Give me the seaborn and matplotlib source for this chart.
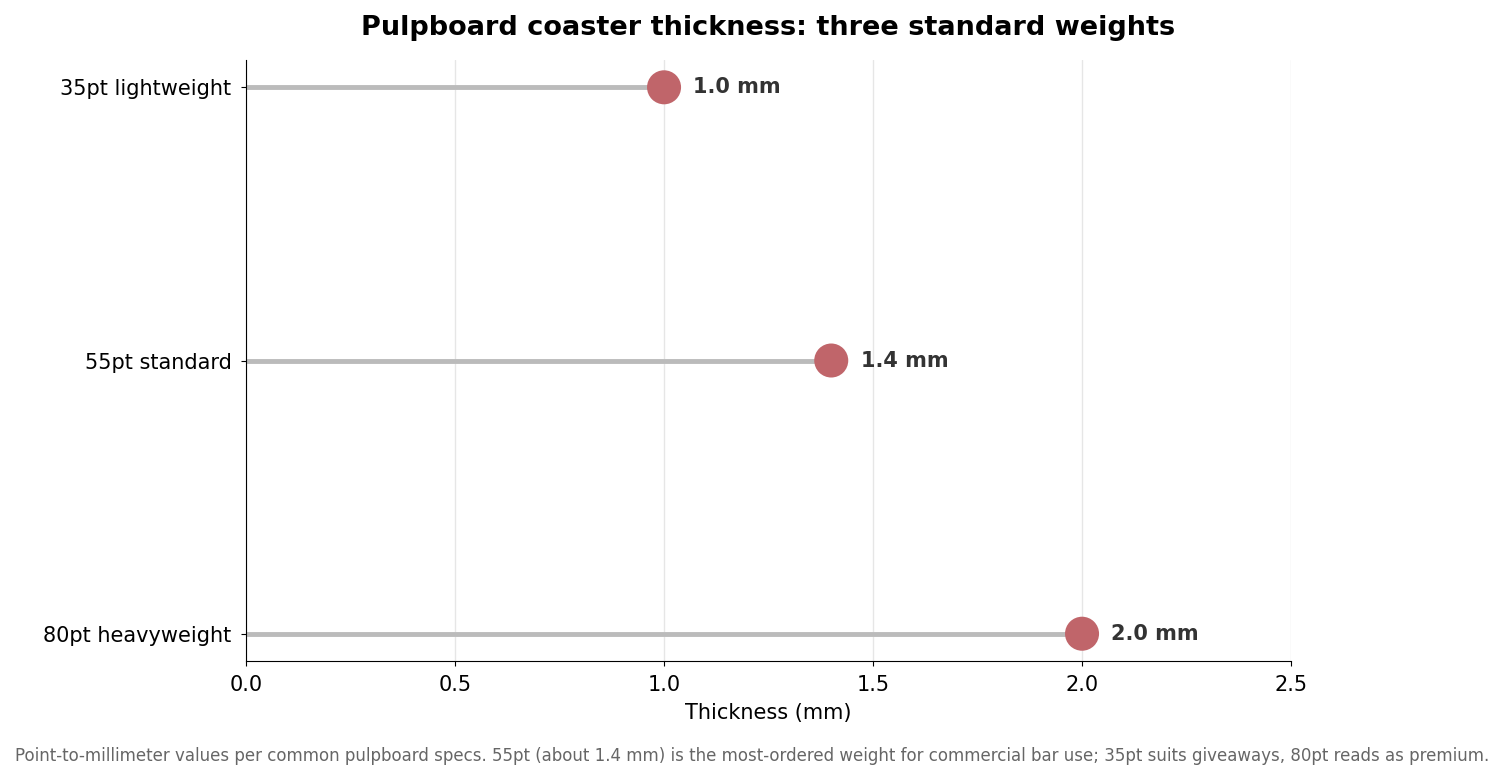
import seaborn as sns
import matplotlib.pyplot as plt
import pandas as pd

weights = ['35pt lightweight', '55pt standard', '80pt heavyweight']
thickness_mm = [1.0, 1.4, 2.0]
value_labels = ['1.0 mm', '1.4 mm', '2.0 mm']
x_ticks = [0.0, 0.5, 1.0, 1.5, 2.0, 2.5]

df = pd.DataFrame({'weight': weights, 'thickness': thickness_mm})

sns.set_style('ticks', rc={'axes.edgecolor': 'black', 'text.color': 'black',
                           'xtick.color': 'black', 'ytick.color': 'black',
                           'axes.labelcolor': 'black', 'axes.linewidth': 1.0,
                           'xtick.major.width': 1.0, 'ytick.major.width': 1.0,
                           'xtick.major.size': 4.5, 'ytick.major.size': 4.5})
plt.rcParams['font.family'] = ['DejaVu Sans']

fig, ax = plt.subplots(figsize=(15.04, 7.81), dpi=100)
fig.subplots_adjust(left=0.1636, right=0.8584, top=0.9232, bottom=0.1536)

ypos = list(range(len(weights)))
ax.hlines(ypos, 0, df['thickness'], color='#bbbbbb', linewidth=3.5, zorder=2)
sns.scatterplot(data=df, x='thickness', y=ypos, ax=ax, s=600, color='#c0656a',
                edgecolor='none', zorder=3, legend=False)

for y, x, lab in zip(ypos, thickness_mm, value_labels):
    ax.text(x + 0.07, y, lab, va='center', ha='left', fontsize=15,
            fontweight='bold', color='#333333')

ax.set_yticks(ypos)
ax.set_yticklabels(weights, fontsize=15)
ax.set_ylim(2.1, -0.1)
ax.set_xlim(0, 2.5)
ax.set_xticks(x_ticks)
ax.set_xticklabels([f'{t:.1f}' for t in x_ticks], fontsize=15)
ax.tick_params(axis='y', pad=7)
ax.tick_params(axis='x', pad=6.5)
ax.set_xlabel('Thickness (mm)', fontsize=15, labelpad=6)
ax.set_ylabel('')
ax.grid(axis='x', color='#e6e6e6', linewidth=1)
ax.set_axisbelow(True)
sns.despine(ax=ax)

ax.set_title('Pulpboard coaster thickness: three standard weights',
             fontsize=19.5, fontweight='bold', pad=18)
fig.text(0.5, 0.032,
         'Point-to-millimeter values per common pulpboard specs. 55pt (about 1.4 mm) is the '
         'most-ordered weight for commercial bar use; 35pt suits giveaways, 80pt reads as premium.',
         ha='center', va='center', fontsize=12, color='#666666')

plt.savefig('out.png', dpi=100)
